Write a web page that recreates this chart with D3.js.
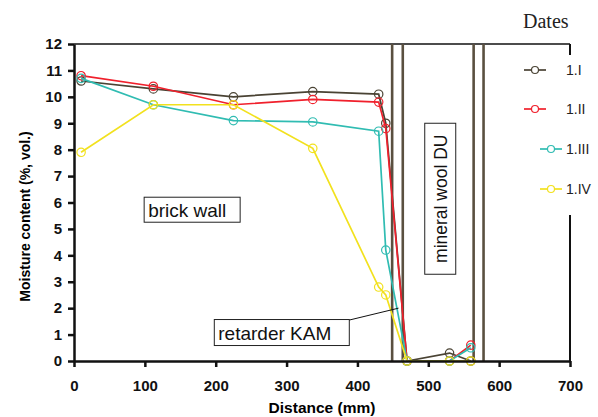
<!DOCTYPE html>
<html>
<head>
<meta charset="utf-8">
<script src="https://cdn.jsdelivr.net/npm/d3@7"></script>
<style>
  body { margin: 0; background: #fff; }
  svg { display: block; font-family: Arial, "Liberation Sans", sans-serif; }
</style>
</head>
<body>
<div id="chart"></div>
<script>
// distances (mm) where moisture was measured
var distance = [10, 112, 225, 337, 430, 440, 470, 530, 560];
var seriesNames = ["1.I", "1.II", "1.III", "1.IV"];
var dateI   = [10.6, 10.3, 10.0, 10.2, 10.1, 9.0, 0, 0.3, 0];
var dateII  = [10.8, 10.4, 9.7, 9.9, 9.8, 8.8, 0, 0, 0.6];
var dateIII = [10.7, 9.7, 9.1, 9.05, 8.7, 4.2, 0, 0, 0.5];
var dateIV  = [7.9, 9.7, 9.7, 8.05, 2.8, 2.5, 0, 0, 0];
var xTicks = [0, 100, 200, 300, 400, 500, 600, 700];
var yTicks = [0, 1, 2, 3, 4, 5, 6, 7, 8, 9, 10, 11, 12];
// layer boundaries (mm)
var walls = [449, 464, 564, 578];

var colors = ["#4a4334", "#f0202c", "#30bcb2", "#f2e11e"];
var allSeries = [dateI, dateII, dateIII, dateIV];

var svgWidth = 598;
var svgHeight = 417;
var margin = { top: 44, right: 28, bottom: 56, left: 74 };
var width = svgWidth - margin.left - margin.right;
var height = svgHeight - margin.top - margin.bottom;

var svg = d3.select("#chart")
  .append("svg")
  .attr("width", svgWidth)
  .attr("height", svgHeight);

var chart = svg.append("g")
  .attr("transform", `translate(${margin.left}, ${margin.top})`);

var x = d3.scaleLinear().domain([0, 700]).range([0, width]);
var y = d3.scaleLinear().domain([0, 12]).range([height, 0]);

// top and right frame
chart.append("line")
  .attr("x1", 0).attr("x2", width).attr("y1", 0).attr("y2", 0)
  .attr("stroke", "#111").attr("stroke-width", 1.5);
chart.append("line")
  .attr("x1", width).attr("x2", width).attr("y1", 0).attr("y2", height)
  .attr("stroke", "#111").attr("stroke-width", 2);

// wall boundaries
chart.selectAll("line.wall")
  .data(walls)
  .enter()
  .append("line")
  .attr("class", "wall")
  .attr("x1", d => x(d)).attr("x2", d => x(d))
  .attr("y1", 0).attr("y2", height)
  .attr("stroke", "#5a5040")
  .attr("stroke-width", 2.6);

// series
var line = d3.line()
  .x((d, i) => x(distance[i]))
  .y(d => y(d));

allSeries.forEach(function(vals, k) {
  chart.append("path")
    .datum(vals)
    .attr("d", line)
    .attr("fill", "none")
    .attr("stroke", colors[k])
    .attr("stroke-width", 1.7);
  chart.selectAll("circle.s" + k)
    .data(vals)
    .enter()
    .append("circle")
    .attr("class", "s" + k)
    .attr("cx", (d, i) => x(distance[i]))
    .attr("cy", d => y(d))
    .attr("r", 4.2)
    .attr("fill", "none")
    .attr("stroke", colors[k])
    .attr("stroke-width", 1.2);
});

// axes
var xAxis = chart.append("g")
  .attr("transform", `translate(0, ${height})`)
  .call(d3.axisBottom(x).tickValues(xTicks).tickSize(6).tickSizeOuter(0));
var yAxis = chart.append("g")
  .call(d3.axisLeft(y).tickValues(yTicks).tickSize(6).tickSizeOuter(0));

[xAxis, yAxis].forEach(function(ax) {
  ax.select(".domain").attr("stroke", "#111").attr("stroke-width", 2.5);
  ax.selectAll(".tick line").attr("stroke", "#111").attr("stroke-width", 2.5);
  ax.selectAll(".tick text")
    .attr("fill", "#111")
    .style("font-size", "15px")
    .style("font-weight", "bold")
    .style("font-family", "Arial, 'Liberation Sans', sans-serif");
});
xAxis.selectAll(".tick text").attr("y", 30).attr("dy", 0);
yAxis.selectAll(".tick text").attr("x", -12);

// axis titles
chart.append("text")
  .attr("x", width / 2)
  .attr("y", height + 52)
  .attr("text-anchor", "middle")
  .style("font-size", "15.5px")
  .style("font-weight", "bold")
  .text("Distance (mm)");

chart.append("text")
  .attr("transform", "rotate(-90)")
  .attr("x", -(height / 2 + 14))
  .attr("y", -44)
  .attr("text-anchor", "middle")
  .style("font-size", "14px")
  .style("font-weight", "bold")
  .text("Moisture content (%, vol.)");

// annotation boxes
function boxLabel(x0, y0, w, h, txt, size, rotate) {
  chart.append("rect")
    .attr("x", x0).attr("y", y0).attr("width", w).attr("height", h)
    .attr("fill", "#fff").attr("stroke", "#222").attr("stroke-width", 1);
  var t = chart.append("text")
    .style("font-size", size + "px")
    .attr("fill", "#111")
    .text(txt);
  if (rotate) {
    t.attr("transform", `translate(${x0 + w / 2 + 6.5}, ${y0 + h / 2}) rotate(-90)`)
      .attr("text-anchor", "middle");
  } else {
    t.attr("x", x0 + 4).attr("y", y0 + h / 2 + 7);
  }
}

boxLabel(x(99), y(6.2), 96, 25, "brick wall", 19, false);
boxLabel(x(198), y(1.57), 135, 26, "retarder KAM", 19, false);
boxLabel(x(495), y(9.0), 31, 151, "mineral wool DU", 17.5, true);

chart.append("line")
  .attr("x1", x(198) + 135).attr("y1", y(1.55))
  .attr("x2", x(458)).attr("y2", y(2.0))
  .attr("stroke", "#111").attr("stroke-width", 1);

// legend
var legend = svg.append("g");
legend.append("rect")
  .attr("x", 515).attr("y", 55).attr("width", 83).attr("height", 160)
  .attr("fill", "#fff");
legend.append("text")
  .attr("x", 523).attr("y", 28)
  .style("font-family", "'Liberation Serif', 'Times New Roman', serif")
  .style("font-size", "20px")
  .attr("fill", "#222")
  .text("Dates");

var legendX = [535, 535, 551, 551];
var legendY = [70, 109, 149, 189];
seriesNames.forEach(function(name, k) {
  legend.append("line")
    .attr("x1", legendX[k] - 11).attr("x2", legendX[k] + 11)
    .attr("y1", legendY[k]).attr("y2", legendY[k])
    .attr("stroke", colors[k]).attr("stroke-width", 1.7);
  legend.append("circle")
    .attr("cx", legendX[k]).attr("cy", legendY[k]).attr("r", 3.5)
    .attr("fill", "#fff").attr("stroke", colors[k]).attr("stroke-width", 1.2);
  legend.append("text")
    .attr("x", 566).attr("y", legendY[k] + 5)
    .style("font-size", "14px")
    .attr("fill", "#222")
    .text(name);
});
</script>
</body>
</html>
